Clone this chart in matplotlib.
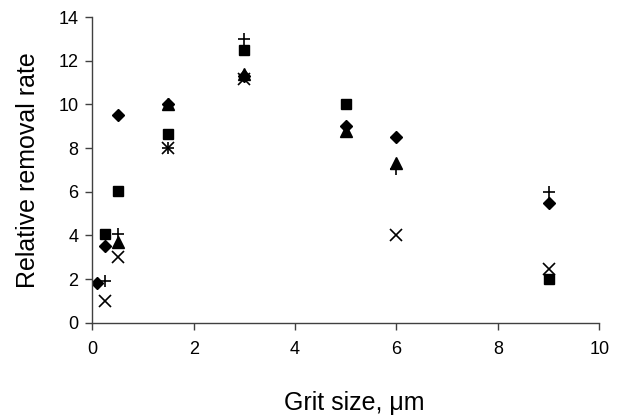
import matplotlib
matplotlib.use("Agg")
import matplotlib.pyplot as plt

plt.rcParams['font.family'] = ['Liberation Sans', 'DejaVu Sans']

# Relative removal rate vs. grit size for several materials
diamond_x = [0.1, 0.25, 0.5, 1.5, 3, 5, 6, 9]
diamond_y = [1.8, 3.5, 9.5, 10.0, 11.3, 9.0, 8.5, 5.5]

square_x = [0.25, 0.5, 1.5, 3, 5, 9]
square_y = [4.05, 6.05, 8.65, 12.5, 10.0, 2.0]

triangle_x = [0.5, 1.5, 3, 5, 6]
triangle_y = [3.7, 10.0, 11.4, 8.8, 7.3]

cross_x = [0.25, 0.5, 1.5, 3, 6, 9]
cross_y = [1.0, 3.0, 8.0, 11.15, 4.0, 2.45]

plus_x = [0.25, 0.5, 1.5, 3, 6, 9]
plus_y = [1.9, 4.05, 8.0, 13.0, 7.05, 6.0]

x_ticks = [0, 2, 4, 6, 8, 10]
y_ticks = [0, 2, 4, 6, 8, 10, 12, 14]

W, H = 621, 416
fig = plt.figure(figsize=(W / 100, H / 100), dpi=100)
ax = fig.add_axes([0.1485, 0.2243, 0.8165, 0.7345])

ax.plot(diamond_x, diamond_y, linestyle='none', marker='D', color='black', markersize=6.5)
ax.plot(square_x, square_y, linestyle='none', marker='s', color='black', markersize=7.5)
ax.plot(triangle_x, triangle_y, linestyle='none', marker='^', color='black', markersize=8)
ax.plot(cross_x, cross_y, linestyle='none', marker='x', color='black', markersize=8, markeredgewidth=1.2)
ax.plot(plus_x, plus_y, linestyle='none', marker='+', color='black', markersize=9, markeredgewidth=1.2)

ax.set_xlim(0, 10)
ax.set_ylim(0, 14)
ax.set_xticks(x_ticks)
ax.set_yticks(y_ticks)
ax.tick_params(direction='out', length=5, width=1, labelsize=13, colors='#404040', labelcolor='black')
ax.tick_params(axis='x', pad=8)
ax.tick_params(axis='y', pad=5)
ax.spines['top'].set_visible(False)
ax.spines['right'].set_visible(False)
for s in ('left', 'bottom'):
    ax.spines[s].set_linewidth(1)
    ax.spines[s].set_color('#404040')

# Axis titles placed in figure pixel coordinates
fig.text(354 / W, 1 - 410 / H, 'Grit size, \u03bcm', fontsize=18, ha='center', va='baseline')
fig.text(28 / W, 1 - 170 / H, 'Relative removal rate', fontsize=18,
         ha='center', va='center', rotation=90)

fig.savefig('out.png', dpi=100)
